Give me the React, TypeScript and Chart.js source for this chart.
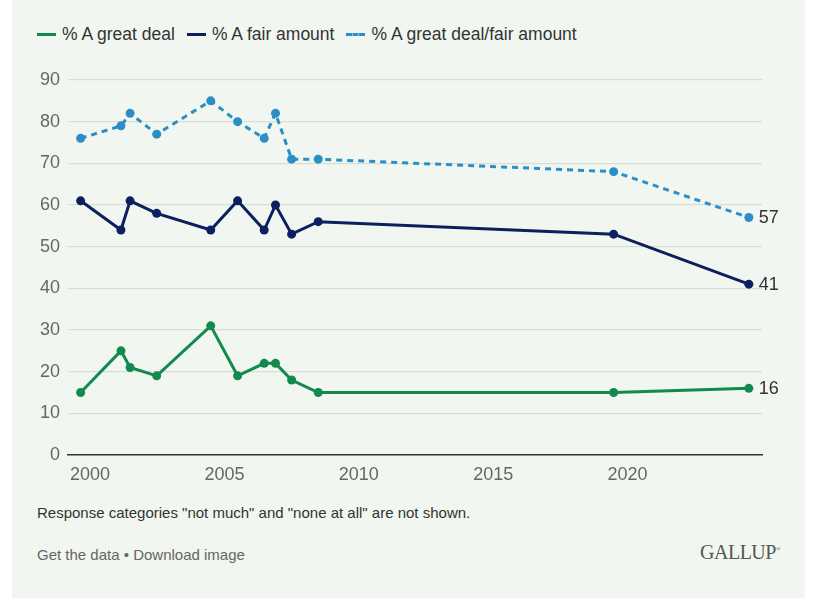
import { useEffect, useRef } from "react"
import { Chart, registerables } from "chart.js"

Chart.register(...registerables)

// survey dates as decimal years
const dates = [1999.65, 2001.15, 2001.49, 2002.48, 2004.49, 2005.49, 2006.48, 2006.9, 2007.5, 2008.49, 2019.48, 2024.51]
const greatDeal = [15, 25, 21, 19, 31, 19, 22, 22, 18, 15, 15, 16]
const fairAmount = [61, 54, 61, 58, 54, 61, 54, 60, 53, 56, 53, 41]
const combined = [76, 79, 82, 77, 85, 80, 76, 82, 71, 71, 68, 57]
const seriesNames = ["% A great deal", "% A fair amount", "% A great deal/fair amount"]
const seriesColors = ["#138a4d", "#0c1f5e", "#2b8ec6"]
const xTicks = [2000, 2005, 2010, 2015, 2020]

const endLabels = {
  id: "endLabels",
  afterDatasetsDraw(chart: Chart) {
    const ctx = chart.ctx
    ctx.save()
    ctx.font = "18px 'Liberation Sans', Arial, sans-serif"
    ctx.fillStyle = "#333"
    ctx.textBaseline = "middle"
    chart.data.datasets.forEach((ds, i) => {
      const meta = chart.getDatasetMeta(i)
      const last = meta.data[meta.data.length - 1]
      const v = ds.data[ds.data.length - 1] as { y: number }
      ctx.fillText(String(v.y), last.x + 10, last.y + 1)
    })
    ctx.restore()
  },
}

export default function App() {
  const chartRef = useRef<HTMLCanvasElement>(null)
  const chartInstance = useRef<Chart | null>(null)

  useEffect(() => {
    if (!chartRef.current) return
    const ctx = chartRef.current.getContext("2d")
    if (!ctx) return
    if (chartInstance.current) chartInstance.current.destroy()

    const series = [greatDeal, fairAmount, combined]

    chartInstance.current = new Chart(ctx, {
      type: "line",
      data: {
        datasets: series.map((vals, i) => ({
          label: seriesNames[i],
          data: vals.map((v, j) => ({ x: dates[j], y: v })),
          borderColor: seriesColors[i],
          backgroundColor: seriesColors[i],
          borderWidth: 3,
          borderDash: i === 2 ? [6, 5] : [],
          pointRadius: 4.5,
          pointBorderWidth: 0,
          pointBackgroundColor: seriesColors[i],
          tension: 0,
        })),
      },
      options: {
        responsive: false,
        animation: false,
        layout: { padding: { top: 19, right: 43, left: 0, bottom: 0 } },
        plugins: {
          legend: { display: false },
          tooltip: { enabled: false },
        },
        scales: {
          x: {
            type: "linear",
            min: 1999.18,
            max: 2025,
            afterBuildTicks: (s) => {
              s.ticks = xTicks.map((v) => ({ value: v }))
            },
            afterFit: (s) => {
              s.height = 36
            },
            grid: { display: false },
            border: { display: true, color: "#333", width: 1.5 },
            ticks: {
              padding: 1,
              color: "#666",
              font: { size: 18, family: "'Liberation Sans', Arial, sans-serif" },
              callback: (v) => String(v),
              maxRotation: 0,
            },
          },
          y: {
            min: 0,
            max: 90,
            afterFit: (s) => {
              s.width = 56
            },
            border: { display: false },
            grid: {
              drawTicks: false,
              color: (c) => (c.tick && c.tick.value === 0 ? "rgba(0,0,0,0)" : "#d9ddd9"),
              lineWidth: 1.3,
            },
            ticks: {
              stepSize: 10,
              padding: 8,
              color: "#666",
              font: { size: 18, family: "'Liberation Sans', Arial, sans-serif" },
            },
          },
        },
      },
      plugins: [endLabels],
    })

    return () => {
      if (chartInstance.current) {
        chartInstance.current.destroy()
        chartInstance.current = null
      }
    }
  }, [])

  const font = "'Liberation Sans', Arial, sans-serif"

  return (
    <div
      style={{
        position: "absolute",
        left: 12,
        top: 0,
        width: 793,
        height: 598,
        background: "#f1f7f0",
        fontFamily: font,
      }}
    >
      <div
        style={{
          position: "absolute",
          left: 25,
          top: 23,
          height: 22,
          display: "flex",
          alignItems: "center",
          fontSize: 17.5,
          color: "#333",
          whiteSpace: "nowrap",
        }}
      >
        {seriesNames.map((name, i) => (
          <div key={name} style={{ display: "flex", alignItems: "center", marginRight: 12 }}>
            <span
              style={{
                display: "inline-block",
                width: 19,
                height: 0,
                borderTop: `3px ${i === 2 ? "dashed" : "solid"} ${seriesColors[i]}`,
                marginRight: 6,
              }}
            />
            <span>{name}</span>
          </div>
        ))}
      </div>
      <canvas
        ref={chartRef}
        width={793}
        height={430}
        style={{ position: "absolute", left: 0, top: 61, width: 793, height: 430 }}
      />
      <div style={{ position: "absolute", left: 25, top: 504, fontSize: 15, color: "#333", whiteSpace: "nowrap" }}>
        Response categories "not much" and "none at all" are not shown.
      </div>
      <div style={{ position: "absolute", left: 25, top: 546, fontSize: 15, color: "#666", whiteSpace: "nowrap" }}>
        Get the data • Download image
      </div>
      <div
        style={{
          position: "absolute",
          right: 25,
          top: 541,
          fontSize: 20,
          color: "#555",
          fontFamily: "'Liberation Serif', 'Times New Roman', serif",
          letterSpacing: -0.5,
        }}
      >
        GALLUP<sup style={{ fontSize: 6 }}>®</sup>
      </div>
    </div>
  )
}
